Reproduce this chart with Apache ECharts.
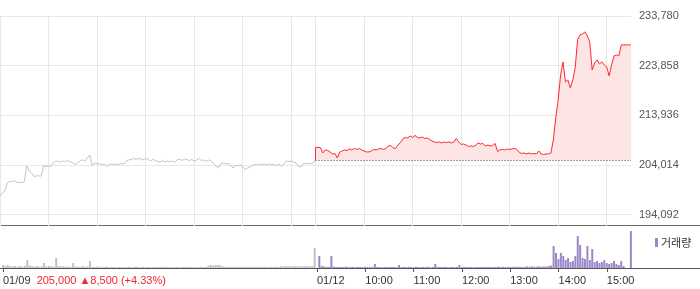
<!DOCTYPE html>
<html><head><meta charset="utf-8">
<script src="https://cdn.jsdelivr.net/npm/echarts@6/dist/echarts.min.js"></script>
<style>html,body{margin:0;padding:0;background:#fff}#c{width:700px;height:289px}</style>
</head><body><div id="c"></div>
<script>
// 3-minute samples, 09:00-15:30
const STEP = 3;
const prevClose = 205000;
const closeInfo = '205,000 \u25B28,500 (+4.33%)';
const day1Prices = [
197800,198400,198800,200400,200700,200700,200900,200500,200500,200500,
200600,203800,202800,202400,201700,201800,201800,201800,203900,203700,
203800,203700,204400,204800,204700,204600,204800,204700,204900,204600,
204400,204100,204400,204900,205000,204800,205400,206000,203900,204400,
204200,204300,204000,204200,203700,204100,204200,204000,204200,204100,
204300,204200,204800,205000,205100,205300,205100,205300,205200,205000,
205300,205100,204800,205100,204900,204700,204600,204900,204600,204800,
204600,204800,204500,205000,205200,204900,205200,205100,204900,205100,
204800,205000,205300,204900,205000,204700,205000,204800,204200,203800,
203400,204300,204400,204200,204300,204000,203400,203900,203800,204000,
203700,203100,203400,203600,203900,204100,204000,204200,204100,204200,
204000,204200,204000,204100,203900,204200,203700,204200,204800,204700,
204800,204600,204400,203700,203600,204300,204300,204300,204300,204400,
205000];
const day2Prices = [
207500,207500,207500,206400,207000,206900,206600,206200,206300,205400,
206600,206800,207000,206900,207200,207000,207300,207100,207300,207000,
206800,206600,206600,206800,207100,207000,207200,207300,207100,207300,
207800,207900,207400,207300,208000,208500,209200,209500,209400,209800,
209500,209900,209500,209400,209600,209300,209400,209100,208800,208600,
208500,208600,208400,208600,208500,208600,208400,208600,209300,208600,
208100,208200,208000,207700,207800,207700,207900,208400,208200,208300,
207800,208000,207800,207900,208300,206700,207000,207100,207000,207200,
207100,207200,207300,207100,206500,206300,206400,206200,206400,206200,
206300,206200,206800,206200,206100,206200,206200,206400,209000,213400,
217000,222000,224600,220600,221000,219400,221000,223400,229000,230000,
230200,230600,229800,228600,223000,224400,225000,224200,224600,224000,
223600,221800,224000,225800,226000,225800,228000,228000,228000,228000,
228000];
const day1Volumes = [
3000,2200,2800,1800,1500,2000,1200,1800,1500,2200,
8000,2500,1800,1500,2000,1200,1600,5000,1500,2000,
1800,1200,10000,2000,1500,1800,1200,1500,1000,5000,
1500,1200,1000,1800,1200,1500,7000,1200,1000,1500,
800,1200,1000,1500,800,1000,1200,700,1000,1300,
800,1000,1200,900,1000,1400,800,1000,1200,900,
1100,800,1000,1200,900,1000,1300,800,1000,1100,
900,1000,1200,800,1000,1100,900,1200,1000,800,
1100,1000,1200,900,1000,2500,3000,2600,2800,3000,
2500,1500,1200,1000,1300,1100,1000,1400,1200,1000,
1300,1100,1200,1000,1400,1200,1000,1300,1100,1200,
1000,1300,1200,1100,1000,1800,1500,2000,1600,1800,
1500,2000,1700,1500,1800,1600,2000,1500,1800,20000];
const day2Volumes = [
12000,2000,1500,1200,1000,12000,1500,1000,1200,800,
1000,1300,800,1000,1200,900,1100,1000,800,1200,
1000,900,1100,4000,1200,1000,800,1100,1000,900,
1200,1000,800,3000,1000,1200,900,1100,1000,800,
1200,1000,900,1100,1000,1200,800,1000,4000,1100,
900,1000,1200,800,1000,1100,900,1000,3000,1000,
1200,900,1000,1100,800,1200,1000,900,1100,1000,
1200,900,1000,1100,1300,1000,1200,900,1100,1000,
1200,1000,1300,1100,1000,1200,1500,1300,1500,1200,
1400,1600,1300,1500,1400,2000,2500,22000,15000,9000,
15000,12000,8000,10000,6000,7000,12000,32000,23000,10000,
9000,22000,8000,19000,6000,7000,5000,6000,8000,5000,
4000,5000,7000,4000,3000,7000,2000,0,0,37000];
const yTicks = [194092, 204014, 213936, 223858, 233780];
const yMin = 191800, yMax = 233780;
const gridMinutes = [0,60,120,180,240,300,360,390,450,510,570,630,690,750];
const xTickMinutes = [0,390,450,510,570,630,690,750];
const xTickLabels = ['01/09','01/12','10:00','11:00','12:00','13:00','14:00','15:00'];
const volumeName = '거래량';

const FONT = "'Liberation Sans', Arial, 'DejaVu Sans', sans-serif";
const DAY = 390;
const fmt = v => Math.round(v).toString().replace(/\B(?=(\d{3})+(?!\d))/g, ',');

const chart = echarts.init(document.getElementById('c'), null, {renderer: 'canvas'});
chart.setOption({
  animation: false,
  backgroundColor: '#fff',
  textStyle: {fontFamily: FONT},
  grid: [
    {left: 0, right: 69, top: 16, height: 210},
    {left: 0, right: 69, top: 226, height: 42}
  ],
  legend: {
    data: [volumeName], left: 650, top: 232, itemWidth: 3, itemHeight: 9, itemGap: 2,
    icon: 'rect', textStyle: {fontSize: 11, color: '#333', fontFamily: "'Noto Sans CJK KR', sans-serif", padding: [0,0,0,-2]},
    selectedMode: false
  },
  xAxis: [
    {type: 'value', gridIndex: 0, min: 0, max: 2 * DAY,
     axisLine: {show: false},
     axisTick: {show: false, customValues: gridMinutes},
     axisLabel: {show: false, customValues: gridMinutes},
     splitLine: {show: true, lineStyle: {color: '#e8e8e8', width: 1}}},
    {type: 'value', gridIndex: 1, min: 0, max: 2 * DAY,
     axisLine: {show: false},
     axisTick: {show: true, customValues: xTickMinutes, length: 4, lineStyle: {color: '#555'}},
     axisLabel: {show: true, customValues: xTickMinutes, align: 'left', margin: 7,
       fontSize: 11, color: '#333', fontFamily: FONT,
       formatter: v => {
         const idx = xTickMinutes.indexOf(v);
         const t = idx >= 0 ? xTickLabels[idx] : '';
         return idx === 0 ? '{d|' + t + '}{r|  ' + closeInfo + '}' : t;
       },
       rich: {d: {fontSize: 11, color: '#333', fontFamily: FONT}, r: {fontSize: 11, color: '#f0282d', fontFamily: FONT}}},
     splitLine: {show: false}}
  ],
  yAxis: [
    {type: 'value', gridIndex: 0, position: 'right', min: yMin, max: yMax,
     axisLine: {show: false},
     axisTick: {show: false, customValues: yTicks},
     axisLabel: {show: true, customValues: yTicks, margin: 8, fontSize: 11, color: '#555', fontFamily: FONT, formatter: fmt},
     splitLine: {show: true, lineStyle: {color: '#e8e8e8', width: 1}}},
    {type: 'value', gridIndex: 1, position: 'right', min: 0, max: 42000,
     axisLine: {show: false}, axisTick: {show: false}, axisLabel: {show: false}, splitLine: {show: false}}
  ],
  series: [
    {name: 'day1', type: 'line', xAxisIndex: 0, yAxisIndex: 0, showSymbol: false, symbol: 'none',
     data: day1Prices.map((v, i) => [i * STEP, v]),
     lineStyle: {color: '#c4c4c4', width: 1}},
    {name: 'day2', type: 'line', xAxisIndex: 0, yAxisIndex: 0, showSymbol: false, symbol: 'none',
     data: [[DAY, prevClose]].concat(day2Prices.map((v, i) => [DAY + i * STEP, v])),
     lineStyle: {color: '#ff2a2a', width: 1},
     areaStyle: {color: '#fde5e6', origin: prevClose, opacity: 1},
     markLine: {silent: true, symbol: ['none', 'none'], label: {show: false},
       lineStyle: {color: '#444', type: [1, 2], width: 1},
       data: [[{coord: [DAY, prevClose]}, {coord: [2 * DAY, prevClose]}]]}},
    {name: 'vol1', type: 'bar', xAxisIndex: 1, yAxisIndex: 1, barWidth: 2,
     itemStyle: {color: '#c0c0c0'},
     data: day1Volumes.map((v, i) => [i * STEP + STEP / 2, v])},
    {name: volumeName, type: 'bar', xAxisIndex: 1, yAxisIndex: 1, barWidth: 2,
     itemStyle: {color: '#9c88c9'},
     data: day2Volumes.map((v, i) => [DAY + i * STEP + STEP / 2, v])}
  ],
  graphic: [
    {type: 'line', shape: {x1: 0, y1: 225.5, x2: 700, y2: 225.5}, style: {stroke: '#6a6a6a', lineWidth: 1}, silent: true},
    {type: 'line', shape: {x1: 0, y1: 268.5, x2: 700, y2: 268.5}, style: {stroke: '#555', lineWidth: 1}, silent: true}
  ]
});
</script></body></html>
